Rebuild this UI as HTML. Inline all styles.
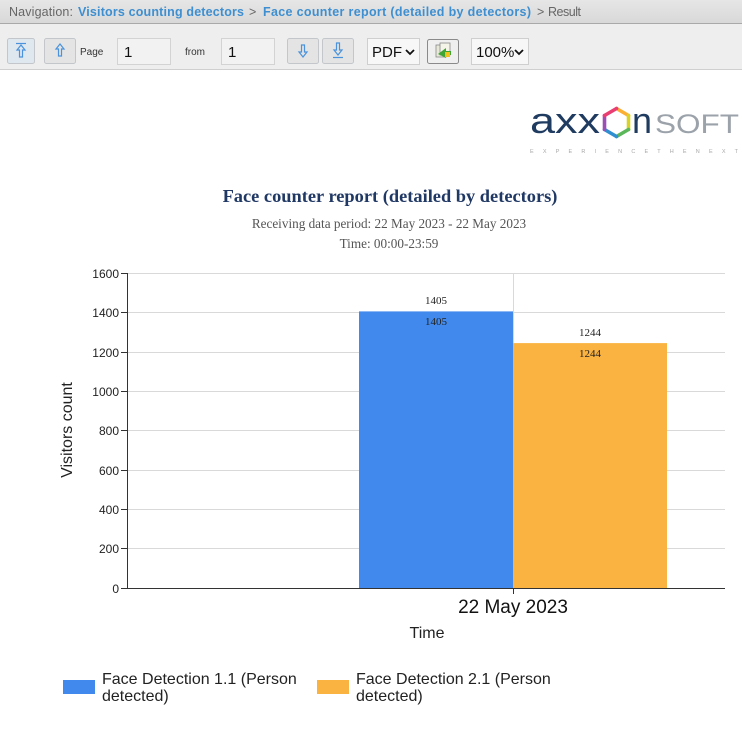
<!DOCTYPE html>
<html>
<head>
<meta charset="utf-8">
<style>
html,body{margin:0;padding:0;background:#fff;}
body{width:742px;height:735px;overflow:hidden;position:relative;}
svg{position:absolute;left:0;top:0;}
</style>
</head>
<body>
<svg width="742" height="735" viewBox="0 0 742 735" xmlns="http://www.w3.org/2000/svg">
  <defs>
    <linearGradient id="nav" x1="0" y1="0" x2="0" y2="1">
      <stop offset="0" stop-color="#e6e6e6"/>
      <stop offset="1" stop-color="#d8d8d8"/>
    </linearGradient>
  </defs>
  <!-- nav bar -->
  <rect x="0" y="0" width="742" height="24" fill="url(#nav)"/>
  <line x1="0" y1="23.5" x2="742" y2="23.5" stroke="#a9a9a9"/>
  <g font-family="Liberation Sans, sans-serif" font-size="12.5">
    <text x="9" y="16" fill="#666" textLength="64">Navigation:</text>
    <text x="78" y="16" fill="#3d8fd1" font-weight="bold" textLength="166">Visitors counting detectors</text>
    <text x="249" y="16" fill="#666">&gt;</text>
    <text x="263" y="16" fill="#3d8fd1" font-weight="bold" textLength="268">Face counter report (detailed by detectors)</text>
    <text x="537" y="16" fill="#666">&gt;</text>
    <text x="548" y="16" fill="#666" textLength="33">Result</text>
  </g>
  <!-- toolbar -->
  <rect x="0" y="24" width="742" height="45" fill="#eeeeee"/>
  <line x1="0" y1="69.5" x2="742" y2="69.5" stroke="#cfcfcf"/>
  <!-- btn1 -->
  <rect x="7.5" y="38.5" width="27" height="25" rx="2" fill="#dfe7ef" stroke="#c3c7cc"/>
  <g stroke="#4a93dc" stroke-width="1.2" fill="none">
    <line x1="16" y1="43.5" x2="26" y2="43.5"/>
    <path d="M21 45 L17 50 L19.5 50 L19.5 57 L22.5 57 L22.5 50 L25 50 Z"/>
  </g>
  <!-- btn2 -->
  <rect x="44.5" y="38.5" width="31" height="25" rx="2" fill="#e4e4e4" stroke="#c3c7cc"/>
  <g stroke="#4a93dc" stroke-width="1.2" fill="none">
    <path d="M60 44 L56 49 L58.5 49 L58.5 56 L61.5 56 L61.5 49 L64 49 Z"/>
  </g>
  <text x="80" y="55" font-family="Liberation Sans, sans-serif" font-size="10" fill="#333">Page</text>
  <rect x="117.5" y="38.5" width="53" height="26" fill="#f2f2f2" stroke="#d3d3d3"/>
  <text x="124" y="57" font-family="Liberation Sans, sans-serif" font-size="15" fill="#111">1</text>
  <text x="185" y="55" font-family="Liberation Sans, sans-serif" font-size="10" fill="#333">from</text>
  <rect x="221.5" y="38.5" width="53" height="26" fill="#f2f2f2" stroke="#d3d3d3"/>
  <text x="228" y="57" font-family="Liberation Sans, sans-serif" font-size="15" fill="#111">1</text>
  <!-- btn3 -->
  <rect x="287.5" y="38.5" width="31" height="25" rx="2" fill="#e4e4e4" stroke="#c3c7cc"/>
  <g stroke="#4a93dc" stroke-width="1.2" fill="none">
    <path d="M303 57 L299 52 L301.5 52 L301.5 45 L304.5 45 L304.5 52 L307 52 Z"/>
  </g>
  <!-- btn4 -->
  <rect x="322.5" y="38.5" width="31" height="25" rx="2" fill="#e4e4e4" stroke="#c3c7cc"/>
  <g stroke="#4a93dc" stroke-width="1.2" fill="none">
    <path d="M338 55 L334 50 L336.5 50 L336.5 43 L339.5 43 L339.5 50 L342 50 Z"/>
    <line x1="333" y1="57.5" x2="343" y2="57.5"/>
  </g>
  <!-- select PDF -->
  <rect x="367.5" y="38.5" width="52" height="26" fill="#f7f7f7" stroke="#cfcfcf"/>
  <text x="372" y="57" font-family="Liberation Sans, sans-serif" font-size="15" fill="#111">PDF</text>
  <path d="M406 50 L410 54 L414 50" stroke="#111" stroke-width="1.8" fill="none"/>
  <!-- export button -->
  <rect x="427.5" y="39.5" width="31" height="24" rx="2" fill="#efefef" stroke="#8a8a8a"/>
  <rect x="436" y="45" width="10" height="12" fill="#e8e8d8" stroke="#888" stroke-width="0.8"/>
  <rect x="440" y="43" width="10" height="12" fill="#f4f4e8" stroke="#888" stroke-width="0.8"/>
  <path d="M438 54 L446 48 L446 51 L451 51 L451 55 L446 55 L446 58 Z" fill="#3fa535"/>
  <rect x="445" y="52" width="5" height="5" fill="#f2c21c"/>
  <!-- select 100% -->
  <rect x="471.5" y="38.5" width="57" height="26" fill="#f7f7f7" stroke="#cfcfcf"/>
  <text x="476" y="57" font-family="Liberation Sans, sans-serif" font-size="15" fill="#111">100%</text>
  <path d="M515 50 L519 54 L523 50" stroke="#111" stroke-width="1.8" fill="none"/>

  <!-- logo -->
  <text x="530" y="133" font-family="Liberation Sans, sans-serif" font-size="36" fill="#1f3b60" textLength="70" lengthAdjust="spacingAndGlyphs">axx</text>
  <g stroke-width="3.6" stroke-linecap="round" fill="none">
    <line x1="616.5" y1="108.5" x2="628.5" y2="115.5" stroke="#fbb034"/>
    <line x1="628.5" y1="115.5" x2="628.5" y2="129.5" stroke="#d9d327"/>
    <line x1="628.5" y1="129.5" x2="616.5" y2="136.5" stroke="#5bb75a"/>
    <line x1="616.5" y1="136.5" x2="604.5" y2="129.5" stroke="#2f8fd0"/>
    <line x1="604.5" y1="129.5" x2="604.5" y2="115.5" stroke="#9b4fb5"/>
    <line x1="604.5" y1="115.5" x2="616.5" y2="108.5" stroke="#ea3d72"/>
  </g>
  <text x="632" y="133" font-family="Liberation Sans, sans-serif" font-size="36" fill="#1f3b60" textLength="20" lengthAdjust="spacingAndGlyphs">n</text>
  <text x="655" y="133" font-family="Liberation Sans, sans-serif" font-size="27" fill="#9ba2a9" textLength="84" lengthAdjust="spacingAndGlyphs">SOFT</text>
  <text x="530" y="153" font-family="Liberation Sans, sans-serif" font-size="5.5" fill="#a8a8a8" textLength="208" lengthAdjust="spacing">E X P E R I E N C E    T H E    N E X T</text>

  <!-- titles -->
  <text x="390" y="202" text-anchor="middle" font-family="Liberation Serif, serif" font-size="18.4" font-weight="bold" fill="#203864">Face counter report (detailed by detectors)</text>
  <text x="389" y="228" text-anchor="middle" font-family="Liberation Serif, serif" font-size="13.2" fill="#555">Receiving data period: 22 May 2023 - 22 May 2023</text>
  <text x="389" y="248" text-anchor="middle" font-family="Liberation Serif, serif" font-size="13.2" fill="#555">Time: 00:00-23:59</text>

  <!-- gridlines -->
  <g stroke="#d9d9d9" stroke-width="1">
    <line x1="127" y1="273.5" x2="725" y2="273.5"/>
    <line x1="127" y1="312.5" x2="725" y2="312.5"/>
    <line x1="127" y1="352.5" x2="725" y2="352.5"/>
    <line x1="127" y1="391.5" x2="725" y2="391.5"/>
    <line x1="127" y1="430.5" x2="725" y2="430.5"/>
    <line x1="127" y1="470.5" x2="725" y2="470.5"/>
    <line x1="127" y1="509.5" x2="725" y2="509.5"/>
    <line x1="127" y1="548.5" x2="725" y2="548.5"/>
    <line x1="513.5" y1="273" x2="513.5" y2="588"/>
  </g>
  <!-- bars -->
  <rect x="359" y="311.4" width="154" height="276.6" fill="#4189ec"/>
  <rect x="513" y="343.1" width="154" height="244.9" fill="#fab241"/>
  <g font-family="Liberation Serif, serif" font-size="11" fill="#222" text-anchor="middle">
    <text x="436" y="304">1405</text>
    <text x="436" y="325">1405</text>
    <text x="590" y="336">1244</text>
    <text x="590" y="357">1244</text>
  </g>
  <!-- axes -->
  <g stroke="#333" stroke-width="1">
    <line x1="127.5" y1="273" x2="127.5" y2="588.5"/>
    <line x1="127" y1="588.5" x2="725" y2="588.5"/>
    <line x1="121" y1="273.5" x2="127" y2="273.5"/>
    <line x1="121" y1="312.5" x2="127" y2="312.5"/>
    <line x1="121" y1="352.5" x2="127" y2="352.5"/>
    <line x1="121" y1="391.5" x2="127" y2="391.5"/>
    <line x1="121" y1="430.5" x2="127" y2="430.5"/>
    <line x1="121" y1="470.5" x2="127" y2="470.5"/>
    <line x1="121" y1="509.5" x2="127" y2="509.5"/>
    <line x1="121" y1="548.5" x2="127" y2="548.5"/>
    <line x1="121" y1="588.5" x2="127" y2="588.5"/>
    <line x1="513.5" y1="588" x2="513.5" y2="594"/>
  </g>
  <g font-family="Liberation Sans, sans-serif" font-size="12" fill="#222" text-anchor="end">
    <text x="119" y="278">1600</text>
    <text x="119" y="317">1400</text>
    <text x="119" y="357">1200</text>
    <text x="119" y="396">1000</text>
    <text x="119" y="435">800</text>
    <text x="119" y="475">600</text>
    <text x="119" y="514">400</text>
    <text x="119" y="553">200</text>
    <text x="119" y="593">0</text>
  </g>
  <text x="513" y="613" text-anchor="middle" font-family="Liberation Sans, sans-serif" font-size="19" fill="#111">22 May 2023</text>
  <text x="427" y="638" text-anchor="middle" font-family="Liberation Sans, sans-serif" font-size="16" fill="#222">Time</text>
  <text transform="translate(72,430) rotate(-90)" text-anchor="middle" font-family="Liberation Sans, sans-serif" font-size="16" fill="#222">Visitors count</text>

  <!-- legend -->
  <rect x="63" y="680" width="32" height="14" fill="#4189ec"/>
  <rect x="317" y="680" width="32" height="14" fill="#fab241"/>
  <g font-family="Liberation Sans, sans-serif" font-size="16" fill="#222">
    <text x="102" y="684">Face Detection 1.1 (Person</text>
    <text x="102" y="701">detected)</text>
    <text x="356" y="684">Face Detection 2.1 (Person</text>
    <text x="356" y="701">detected)</text>
  </g>
</svg>
</body>
</html>
